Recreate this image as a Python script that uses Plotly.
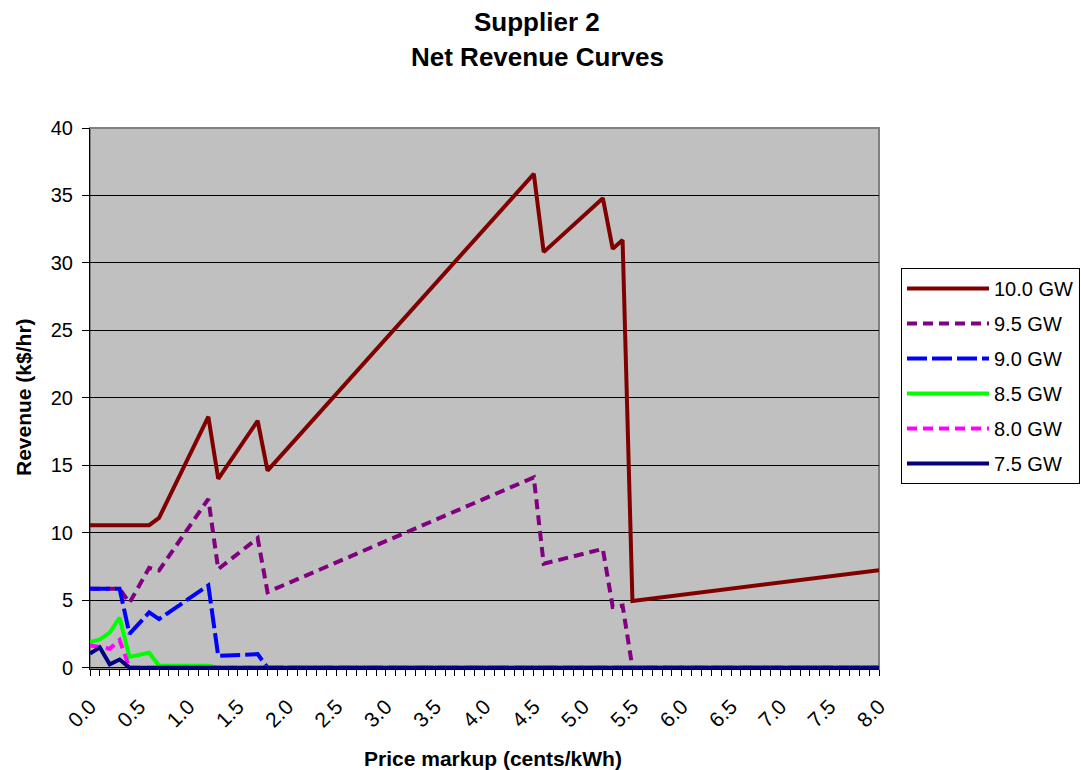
import plotly.graph_objects as go

# Price markup (cents/kWh) at each vertex, and revenue (k$/hr) per supply level
x_100 = [0.0, 0.6, 0.7, 1.2, 1.3, 1.7, 1.8, 4.5, 4.6, 5.2, 5.3, 5.4, 5.5, 8.0]
y_100 = [10.56, 10.56, 11.1, 18.6, 14.0, 18.3, 14.6, 36.6, 30.8, 34.8, 31.05, 31.7, 4.95, 7.22]

x_95 = [0.0, 0.3, 0.4, 0.6, 0.7, 1.2, 1.3, 1.7, 1.8, 4.5, 4.6, 5.2, 5.3, 5.4, 5.5, 8.0]
y_95 = [5.85, 5.85, 4.8, 7.4, 7.2, 12.5, 7.3, 9.6, 5.6, 14.1, 7.7, 8.8, 4.5, 4.6, 0.0, 0.0]

x_90 = [0.0, 0.3, 0.4, 0.6, 0.7, 1.2, 1.3, 1.7, 1.8, 8.0]
y_90 = [5.85, 5.85, 2.5, 4.1, 3.6, 6.1, 0.87, 1.0, 0.0, 0.0]

x_85 = [0.0, 0.1, 0.2, 0.3, 0.4, 0.6, 0.7, 1.2, 1.3, 8.0]
y_85 = [1.9, 2.1, 2.6, 3.7, 0.8, 1.1, 0.15, 0.15, 0.0, 0.0]

x_80 = [0.0, 0.1, 0.2, 0.3, 0.4, 8.0]
y_80 = [1.65, 1.5, 1.4, 2.05, 0.0, 0.0]

x_75 = [0.0, 0.1, 0.2, 0.3, 0.4, 8.0]
y_75 = [1.05, 1.5, 0.25, 0.6, 0.0, 0.0]

series_names = ["10.0 GW", "9.5 GW", "9.0 GW", "8.5 GW", "8.0 GW", "7.5 GW"]

x_tick_vals = [0.0, 0.5, 1.0, 1.5, 2.0, 2.5, 3.0, 3.5, 4.0, 4.5, 5.0, 5.5, 6.0, 6.5, 7.0, 7.5, 8.0]
x_tick_text = ["0.0", "0.5", "1.0", "1.5", "2.0", "2.5", "3.0", "3.5", "4.0",
               "4.5", "5.0", "5.5", "6.0", "6.5", "7.0", "7.5", "8.0"]

styles = [
    dict(color="#800000", dash="solid"),
    dict(color="#800080", dash="10px,6px"),
    dict(color="#0000FF", dash="20px,5px"),
    dict(color="#00FF00", dash="solid"),
    dict(color="#FF00FF", dash="10px,6px"),
    dict(color="#000080", dash="solid"),
]

xs = [x_100, x_95, x_90, x_85, x_80, x_75]
ys = [y_100, y_95, y_90, y_85, y_80, y_75]

FONT = "Liberation Sans, Arial, sans-serif"

# plot area in pixels: left 90, right 879, top 128, bottom 669
PL, PR, PT, PB = 90, 879, 128, 669
PW, PH = PR - PL, PB - PT


def px_x(px):
    return (px - PL) / PW


def px_y(py):
    return (PB - py) / PH


fig = go.Figure()
for name, x, y, st in zip(series_names, xs, ys, styles):
    fig.add_trace(go.Scatter(
        x=x, y=y, name=name, mode="lines", legendgroup=name,
        line=dict(color=st["color"], width=4, dash=st["dash"]),
    ))

fig.update_layout(
    width=1081, height=770,
    margin=dict(l=PL, r=1081 - PR, t=PT, b=770 - PB),
    paper_bgcolor="white",
    plot_bgcolor="#C0C0C0",
    font=dict(family=FONT, color="black", size=20),
    showlegend=True,
    legend=dict(
        xref="container", yref="container",
        x=901 / 1081, y=1 - 268 / 770, xanchor="left", yanchor="top",
        bgcolor="white", bordercolor="black", borderwidth=1,
        font=dict(family=FONT, size=20, color="black"),
        traceorder="grouped", tracegroupgap=6, itemwidth=82,
    ),
    xaxis=dict(
        range=[0, 8], tickmode="array", tickvals=x_tick_vals, ticktext=x_tick_text,
        tickangle=-45, ticks="outside", ticklen=6, tickcolor="black",
        showgrid=False, zeroline=False, showline=True, linecolor="black", linewidth=1,
        minor=dict(dtick=0.1, tick0=0, ticks="outside", ticklen=6, tickcolor="black", showgrid=False),
        tickfont=dict(size=21), automargin=False, ticklabelstandoff=10,
    ),
    yaxis=dict(
        range=[-0.1, 40], tickvals=[0, 5, 10, 15, 20, 25, 30, 35, 40],
        ticks="outside", ticklen=7, tickcolor="black",
        showgrid=True, gridcolor="black", gridwidth=1, zeroline=False,
        showline=True, linecolor="black", linewidth=1,
        tickfont=dict(size=20), automargin=False, ticklabelstandoff=5,
    ),
    shapes=[dict(type="rect", xref="paper", yref="paper", x0=0, y0=0, x1=1, y1=1,
                 line=dict(color="#808080", width=2), layer="below")],
    annotations=[
        dict(text="<b>Supplier 2</b>", xref="paper", yref="paper",
             x=px_x(537), y=px_y(22), xanchor="center", yanchor="middle",
             showarrow=False, font=dict(family=FONT, size=26)),
        dict(text="<b>Net Revenue Curves</b>", xref="paper", yref="paper",
             x=px_x(537), y=px_y(57), xanchor="center", yanchor="middle",
             showarrow=False, font=dict(family=FONT, size=26)),
        dict(text="<b>Price markup (cents/kWh)</b>", xref="paper", yref="paper",
             x=px_x(493), y=px_y(758), xanchor="center", yanchor="middle",
             showarrow=False, font=dict(family=FONT, size=21)),
        dict(text="<b>Revenue (k$/hr)</b>", xref="paper", yref="paper",
             x=px_x(23), y=px_y(397), xanchor="center", yanchor="middle",
             textangle=-90, showarrow=False, font=dict(family=FONT, size=21)),
    ],
)

fig.write_html("out.html")
